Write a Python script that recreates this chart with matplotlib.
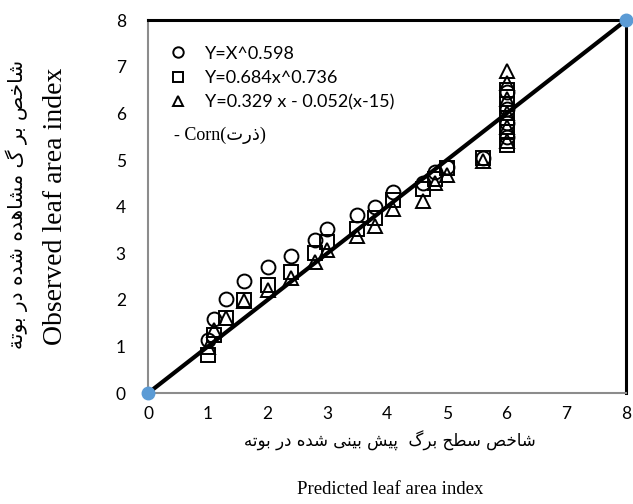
import matplotlib
matplotlib.use('Agg')
import matplotlib.pyplot as plt

# observed vs predicted LAI, three models
x_pts = [1.0, 1.1, 1.3, 1.6, 2.0, 2.4, 2.8, 3.0, 3.5, 3.8, 4.1, 4.6, 4.8, 5.0, 5.6]
y_circ = [1.15, 1.6, 2.02, 2.4, 2.7, 2.95, 3.28, 3.52, 3.82, 4.0, 4.32, 4.5, 4.75, 4.85, 5.05]
y_sq = [0.82, 1.25, 1.62, 2.0, 2.32, 2.6, 3.0, 3.25, 3.52, 3.75, 4.15, 4.38, 4.6, 4.82, 5.04]
y_tri = [1.0, 1.35, 1.62, 1.97, 2.22, 2.46, 2.82, 3.08, 3.37, 3.58, 3.95, 4.12, 4.5, 4.68, 4.97]
# stacked cluster at x = 6
x6 = 6.0
y6_circ = [5.5, 5.8, 6.1, 6.45]
y6_sq = [5.32, 5.6, 5.9, 6.2, 6.5]
y6_tri = [5.4, 5.7, 6.0, 6.3, 6.65, 6.9]

labels = ['Y=X^0.598', 'Y=0.684x^0.736', 'Y=0.329 x - 0.052(x-15)']
ticks = [0, 1, 2, 3, 4, 5, 6, 7, 8]

# crude persian shaping (matplotlib has no arabic shaping)
forms = {
    'ا': ('\uFE8D', '\uFE8E', None, None),
    'ب': ('\uFE8F', '\uFE90', '\uFE91', '\uFE92'),
    'پ': ('\uFB56', '\uFB57', '\uFB58', '\uFB59'),
    'ت': ('\uFE95', '\uFE96', '\uFE97', '\uFE98'),
    'ة': ('\uFE93', '\uFE94', None, None),
    'ح': ('\uFEA1', '\uFEA2', '\uFEA3', '\uFEA4'),
    'خ': ('\uFEA5', '\uFEA6', '\uFEA7', '\uFEA8'),
    'د': ('\uFEA9', '\uFEAA', None, None),
    'ذ': ('\uFEAB', '\uFEAC', None, None),
    'ر': ('\uFEAD', '\uFEAE', None, None),
    'س': ('\uFEB1', '\uFEB2', '\uFEB3', '\uFEB4'),
    'ش': ('\uFEB5', '\uFEB6', '\uFEB7', '\uFEB8'),
    'ص': ('\uFEB9', '\uFEBA', '\uFEBB', '\uFEBC'),
    'ط': ('\uFEC1', '\uFEC2', '\uFEC3', '\uFEC4'),
    'گ': ('\uFB92', '\uFB93', '\uFB94', '\uFB95'),
    'م': ('\uFEE1', '\uFEE2', '\uFEE3', '\uFEE4'),
    'ن': ('\uFEE5', '\uFEE6', '\uFEE7', '\uFEE8'),
    'ه': ('\uFEE9', '\uFEEA', '\uFEEB', '\uFEEC'),
    'و': ('\uFEED', '\uFEEE', None, None),
    'ی': ('\uFBFC', '\uFBFD', '\uFBFE', '\uFBFF'),
}

def fa(s):
    out = []
    for i, c in enumerate(s):
        if c not in forms:
            out.append(c)
            continue
        p = s[i-1] if i > 0 else ''
        n = s[i+1] if i < len(s) - 1 else ''
        jp = p in forms and forms[p][2] is not None
        jn = forms[c][2] is not None and n in forms
        f = forms[c]
        if jp and jn:
            out.append(f[3])
        elif jp:
            out.append(f[1])
        elif jn:
            out.append(f[2])
        else:
            out.append(f[0])
    return ''.join(out[::-1])

fig = plt.figure(figsize=(6.33, 5.04), dpi=100)
ax = fig.add_axes([0.234, 0.22, 0.755, 0.74])

mk = dict(linestyle='none', mfc='none', mec='black', mew=1.4, ms=10)
ax.plot(x_pts, y_circ, marker='o', label=labels[0], **mk)
ax.plot(x_pts, y_sq, marker='s', label=labels[1], **mk)
ax.plot(x_pts, y_tri, marker='^', label=labels[2], **mk)
ax.plot([x6]*len(y6_circ), y6_circ, marker='o', **mk)
ax.plot([x6]*len(y6_sq), y6_sq, marker='s', **mk)
ax.plot([x6]*len(y6_tri), y6_tri, marker='^', **mk)

# 1:1 line
ax.plot([0, 8], [0, 8], color='black', lw=3, zorder=3)
ax.plot([0, 8], [0, 8], linestyle='none', marker='o', ms=9, color='#5B9BD5',
        clip_on=False, zorder=4)

ax.set_xlim(0, 8)
ax.set_ylim(0, 8)
ax.set_xticks(ticks)
ax.set_yticks(ticks)
ax.tick_params(length=0, labelsize=12.5)
ax.tick_params(axis='y', pad=16)
ax.tick_params(axis='x', pad=9)
for t in ax.get_xticklabels() + ax.get_yticklabels():
    t.set_family('Lato')
for s in ['left', 'bottom']:
    ax.spines[s].set_color('#8c8c8c')
    ax.spines[s].set_linewidth(1.5)
for s in ['top', 'right']:
    ax.spines[s].set_color('black')
    ax.spines[s].set_linewidth(2.2)

leg = ax.legend(loc='upper left', bbox_to_anchor=(0.01, 0.975), frameon=False,
                handlelength=1.0, handletextpad=1.0, labelspacing=0.45,
                markerscale=0.75, prop={'family': 'Lato', 'size': 13})

ax.text(0.055, 0.69, '- Corn(' + fa('ذرت') + ')', transform=ax.transAxes,
        family=['Liberation Serif', 'DejaVu Sans'], fontsize=13, va='center')

fig.text(0.616, 0.125, fa('شاخص سطح برگ  پیش بینی شده در بوته'),
         family='DejaVu Sans', fontsize=12, ha='center', va='center')
fig.text(0.616, 0.028, 'Predicted leaf area index', family='Liberation Serif',
         fontsize=13.5, ha='center', va='center')
fig.text(0.027, 0.595, fa('شاخص بر گ مشاهده شده در بوتة'), family='DejaVu Sans',
         fontsize=14.5, rotation=90, ha='center', va='center')
fig.text(0.088, 0.59, 'Observed leaf area index', family='Liberation Serif',
         fontsize=20, rotation=90, ha='center', va='center')

fig.savefig('out.png', dpi=100)
